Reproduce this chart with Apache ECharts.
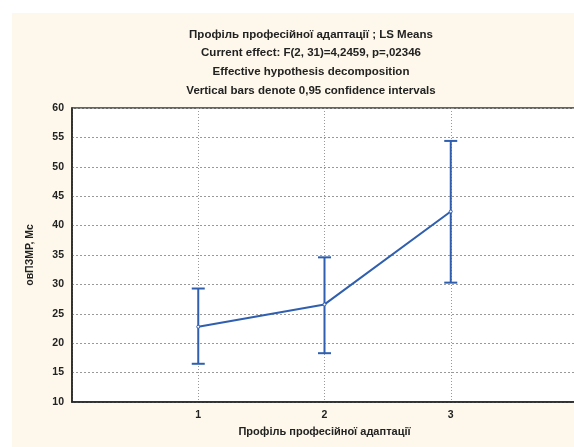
<!DOCTYPE html>
<html>
<head>
<meta charset="utf-8">
<script src="https://cdn.jsdelivr.net/npm/echarts@6/dist/echarts.min.js"></script>
<style>
  html, body { margin: 0; padding: 0; background: #fff; overflow: hidden; }
  #main { width: 582px; height: 447px; }
</style>
</head>
<body>
<div id="main"></div>
<script>
// рівні профілю професійної адаптації
const categories = [1, 2, 3];
// LS Means
const means = [22.8, 26.6, 42.4];
// 0,95 довірчі інтервали
const lower = [16.5, 18.3, 30.3];
const upper = [29.3, 34.6, 54.4];
const yTicks = [10, 15, 20, 25, 30, 35, 40, 45, 50, 55, 60];

const titleLines = [
  'Профіль професійної адаптації ; LS Means',
  'Current effect: F(2, 31)=4,2459, p=,02346',
  'Effective hypothesis decomposition',
  'Vertical bars denote 0,95 confidence intervals'
];

const blue = '#2f5fae';
const font = 'Liberation Sans';

// полотно трохи ширше за вікно, права рамка графіка виходить за край
const chart = echarts.init(document.getElementById('main'));

const option = {
  backgroundColor: '#fff',
  animation: false,
  graphic: [{
    type: 'rect',
    z: -10,
    shape: { x: 12, y: 13, width: 570, height: 434 },
    style: { fill: '#fdf8eb' }
  }],
  title: {
    text: titleLines.join('\n'),
    left: 306,
    top: 20,
    textAlign: 'center',
    textStyle: {
      fontFamily: font,
      fontSize: 11.5,
      fontWeight: 'bold',
      color: '#222',
      lineHeight: 18.7
    }
  },
  grid: {
    left: 72,
    top: 108,
    right: 5,
    bottom: 45,
    show: true,
    backgroundColor: '#fff',
    borderColor: '#333',
    borderWidth: 1.5
  },
  xAxis: {
    type: 'value',
    min: 0,
    max: 4,
    interval: 1,
    name: 'Профіль професійної адаптації',
    nameLocation: 'middle',
    nameGap: 24,
    nameTextStyle: { fontFamily: font, fontSize: 11, fontWeight: 'bold', color: '#222' },
    axisLine: { show: true, lineStyle: { color: '#222', width: 1.5 } },
    axisTick: { show: false },
    axisLabel: {
      margin: 8,
      fontFamily: font, fontSize: 10.5, fontWeight: 'bold', color: '#222',
      formatter: v => categories.indexOf(v) >= 0 ? String(v) : ''
    },
    splitLine: {
      show: true,
      lineStyle: { color: '#999', type: [1, 2], width: 1 }
    }
  },
  yAxis: {
    type: 'value',
    min: yTicks[0],
    max: yTicks[yTicks.length - 1],
    interval: 5,
    name: 'овПЗМР, Мс',
    nameLocation: 'middle',
    nameGap: 36,
    nameTextStyle: { fontFamily: font, fontSize: 10.5, fontWeight: 'bold', color: '#222' },
    axisLine: { show: true, lineStyle: { color: '#222', width: 1.5 } },
    axisTick: { show: false },
    axisLabel: {
      margin: 8,
      fontFamily: font, fontSize: 10.5, fontWeight: 'bold', color: '#222'
    },
    splitLine: {
      show: true,
      lineStyle: { color: '#999', type: [2, 2], width: 1 }
    }
  },
  series: [
    {
      type: 'line',
      data: categories.map((c, i) => [c, means[i]]),
      symbol: 'circle',
      symbolSize: 3,
      itemStyle: { color: '#fff', borderColor: blue, borderWidth: 1 },
      lineStyle: { color: blue, width: 2 },
      z: 3
    },
    {
      type: 'custom',
      data: categories.map((c, i) => [c, lower[i], upper[i]]),
      renderItem: function (params, api) {
        const lo = api.coord([api.value(0), api.value(1)]);
        const hi = api.coord([api.value(0), api.value(2)]);
        const w = 6.5;
        const st = { stroke: blue, lineWidth: 2 };
        return {
          type: 'group',
          children: [
            { type: 'line', shape: { x1: hi[0], y1: hi[1], x2: lo[0], y2: lo[1] }, style: st },
            { type: 'line', shape: { x1: hi[0] - w, y1: hi[1], x2: hi[0] + w, y2: hi[1] }, style: st },
            { type: 'line', shape: { x1: lo[0] - w, y1: lo[1], x2: lo[0] + w, y2: lo[1] }, style: st }
          ]
        };
      },
      z: 2
    }
  ]
};

chart.setOption(option);
</script>
</body>
</html>
